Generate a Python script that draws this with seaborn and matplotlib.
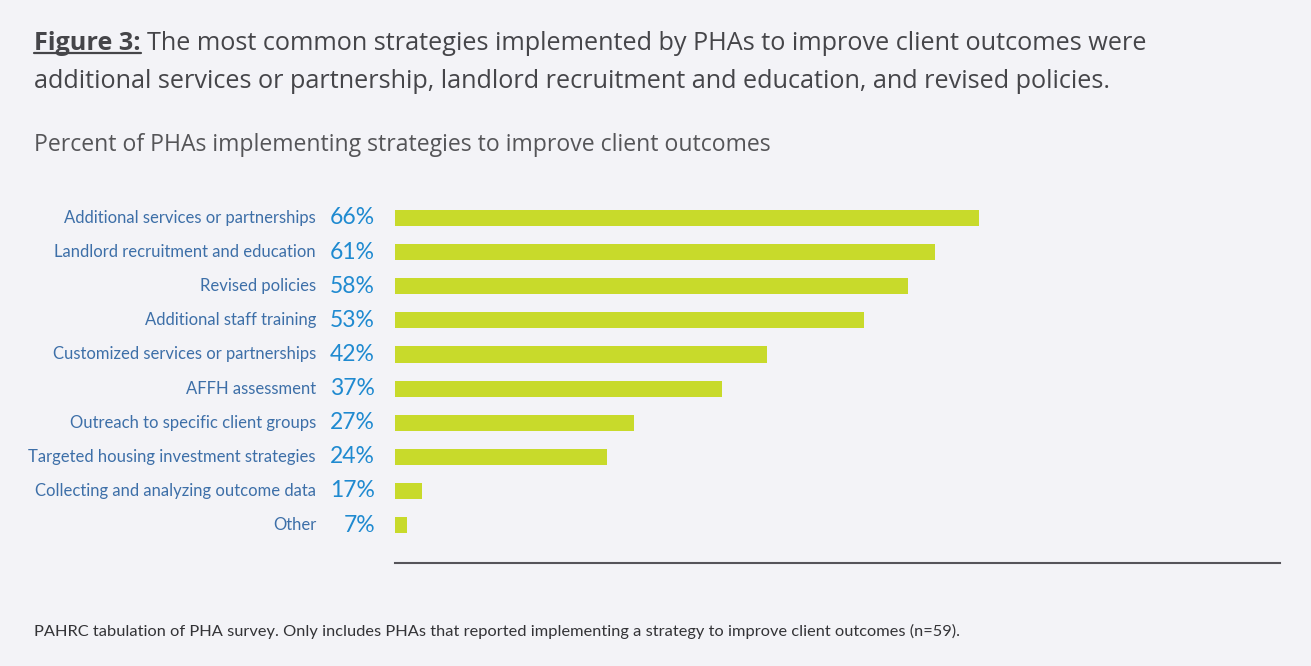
import matplotlib
matplotlib.use("Agg")
import matplotlib.pyplot as plt
import matplotlib.transforms as mtransforms
import pandas as pd
import seaborn as sns

# datos
estrategias = ["Additional services or partnerships",
               "Landlord recruitment and education",
               "Revised policies",
               "Additional staff training",
               "Customized services or partnerships",
               "AFFH assessment",
               "Outreach to specific client groups",
               "Targeted housing investment strategies",
               "Collecting and analyzing outcome data",
               "Other"]
etiquetas_pct = ["66%", "61%", "58%", "53%", "42%", "37%", "27%", "24%",
                 "17%", "7%"]
# largo de barra tal como aparece dibujado (las dos ultimas no siguen la etiqueta)
largo_barras = [66, 61, 58, 53, 42, 37, 27, 24, 3, 1.4]

FONDO = "#f3f3f7"
VERDE = "#c8da2b"
AZUL_CAT = "#3d6fa8"
AZUL_PCT = "#1f8ad0"
GRIS = "#454549"
TITULO = ["Open Sans", "DejaVu Sans"]

sns.set_theme(style="white")
plt.rcParams["font.family"] = ["Lato", "DejaVu Sans"]

df = pd.DataFrame({"estrategia": estrategias, "valor": largo_barras})

W, H = 1311, 666
fig = plt.figure(figsize=(W / 100, H / 100), dpi=100, facecolor=FONDO)
ax = fig.add_axes([395 / W, 1 - 563 / H, (1280 - 395) / W, (563 - 190) / H])
ax.set_facecolor(FONDO)

sns.barplot(data=df, x="valor", y="estrategia", orient="h", color=VERDE,
            width=0.47, saturation=1, linewidth=0, ax=ax)
ax.set_xlim(0, 100)
ax.set_ylim(10.11, -0.82)
ax.set_xticks([])
ax.set_yticks([])
ax.set_xlabel("")
ax.set_ylabel("")
for lado in ["top", "right", "left"]:
    ax.spines[lado].set_visible(False)
ax.spines["bottom"].set_color("#55545a")
ax.spines["bottom"].set_linewidth(1.5)

trans = mtransforms.blended_transform_factory(fig.transFigure, ax.transData)
for i, (cat, pct) in enumerate(zip(estrategias, etiquetas_pct)):
    ax.text(316 / W, i, cat, transform=trans, ha="right", va="center",
            fontsize=12, color=AZUL_CAT)
    ax.text(375 / W, i, pct, transform=trans, ha="right", va="center",
            fontsize=16.5, color=AZUL_PCT)

# titulo con "Figure 3:" subrayado
t1 = fig.text(34 / W, 1 - 44 / H, "Figure 3:", fontsize=18.2, fontweight="bold",
              color=GRIS, va="center", ha="left", family=TITULO)
fig.canvas.draw()
r = fig.canvas.get_renderer()
bb = t1.get_window_extent(r).transformed(fig.transFigure.inverted())
fig.add_artist(plt.Line2D([bb.x0, bb.x1], [bb.y0 + 0.006, bb.y0 + 0.006],
                          transform=fig.transFigure, color=GRIS, lw=1.6))
fig.text(bb.x1 + 6 / W, 1 - 44 / H,
         "The most common strategies implemented by PHAs to improve client outcomes were",
         fontsize=18.2, color=GRIS, va="center", ha="left", family=TITULO)
fig.text(34 / W, 1 - 82 / H,
         "additional services or partnership, landlord recruitment and education, and revised policies.",
         fontsize=18.2, color=GRIS, va="center", ha="left", family=TITULO)

fig.text(34 / W, 1 - 145 / H,
         "Percent of PHAs implementing strategies to improve client outcomes",
         fontsize=16.6, color="#555558", va="center", ha="left", family=TITULO)

fig.text(34 / W, 1 - 631 / H,
         "PAHRC tabulation of PHA survey. Only includes PHAs that reported implementing a strategy to improve client outcomes (n=59).",
         fontsize=11.8, color="#333336", va="center", ha="left")

fig.savefig("out.png", dpi=100, facecolor=FONDO)
